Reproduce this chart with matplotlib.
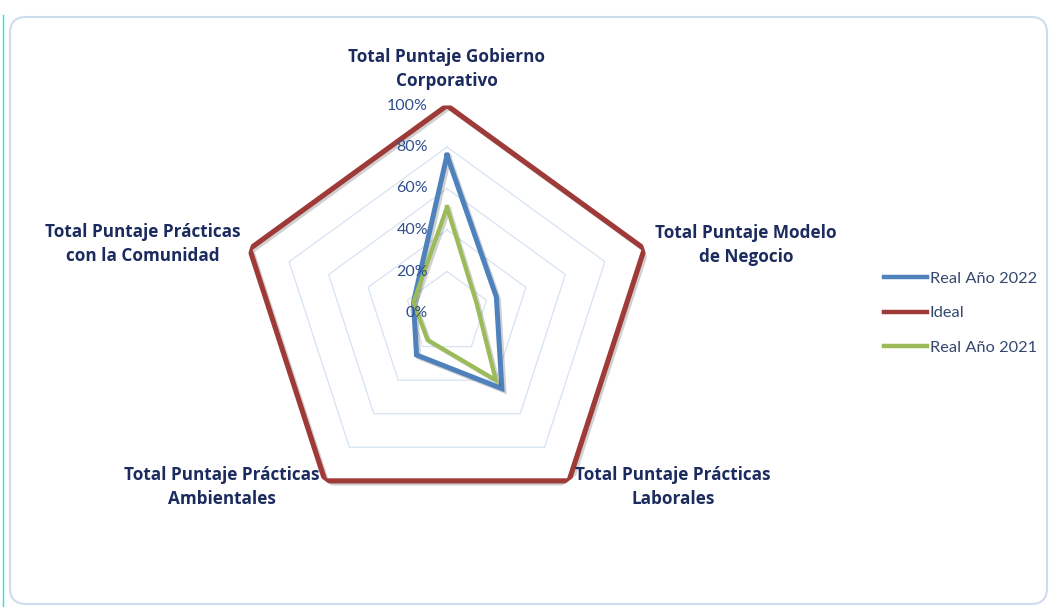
import numpy as np
import matplotlib
matplotlib.use("Agg")
from matplotlib import pyplot as plt
from matplotlib import patheffects as pe
from matplotlib.patches import FancyBboxPatch
from matplotlib.lines import Line2D
from matplotlib.transforms import offset_copy, IdentityTransform

# Data
categories = [
    "Total Puntaje Gobierno\nCorporativo",
    "Total Puntaje Modelo\nde Negocio",
    "Total Puntaje Prácticas\nLaborales",
    "Total Puntaje Prácticas\nAmbientales",
    "Total Puntaje Prácticas\ncon la Comunidad",
]
real_2022 = [0.76, 0.25, 0.45, 0.25, 0.17]
ideal = [1.0, 1.0, 1.0, 1.0, 1.0]
real_2021 = [0.51, 0.15, 0.40, 0.16, 0.17]
grid_levels = [0.2, 0.4, 0.6, 0.8]
tick_values = [0, 0.2, 0.4, 0.6, 0.8, 1.0]
tick_labels = ["0%", "20%", "40%", "60%", "80%", "100%"]

W, H = 1052, 607
fig = plt.figure(figsize=(W / 100, H / 100), dpi=100)
plt.rcParams['font.family'] = ['Lato', 'DejaVu Sans']

# chart frame (rounded border) and left cyan edge
frame = FancyBboxPatch((10, H - 604), 1037, 587, boxstyle="round,pad=0,rounding_size=16",
                       transform=IdentityTransform(), facecolor='white',
                       edgecolor='#cddcee', linewidth=1.5, zorder=-5)
fig.patches.append(frame)
fig.add_artist(Line2D([3 / W, 3 / W], [0, 1 - 15 / H], color='#19e6f5', linewidth=1, zorder=-4))

# polar axes placed so center ~ (447, 313) px, radius ~ 207 px
cx, cy, R = 447, 313, 207.5
ax = fig.add_axes([(cx - R) / W, 1 - (cy + R) / H, 2 * R / W, 2 * R / H], projection='polar')
ax.set_zorder(2)
ax.set_theta_offset(np.pi / 2)
ax.set_theta_direction(-1)
ax.set_ylim(0, 1)
ax.set_xticks([])
ax.set_yticks([])
ax.grid(False)
ax.spines['polar'].set_visible(False)
ax.patch.set_alpha(0)

n = len(categories)
angles = np.linspace(0, 2 * np.pi, n, endpoint=False)
closed = np.concatenate([angles, angles[:1]])

# polygon gridlines
for g in grid_levels:
    ax.plot(closed, [g] * (n + 1), color='#d5e3f3', linewidth=0.9, zorder=1)

shadow = [pe.SimpleLineShadow(offset=(1.5, -1.5), alpha=0.18, shadow_color='black'), pe.Normal()]

series = [
    ("Real Año 2022", real_2022, '#4f81bd', 3.6),
    ("Ideal", ideal, '#9e3a38', 3.7),
    ("Real Año 2021", real_2021, '#9bbb59', 3.0),
]
handles = []
for name, vals, col, lw in series:
    v = list(vals) + [vals[0]]
    ax.plot(closed, v, color=col, linewidth=lw, zorder=3,
            solid_joinstyle='miter', path_effects=shadow)
    handles.append(Line2D([], [], color=col, linewidth=3.2, label=name))

# radial tick labels
tick_tr = offset_copy(ax.transData, fig=fig, x=-19, y=0, units='dots')
for tv, tl in zip(tick_values, tick_labels):
    ax.text(0, tv, tl, transform=tick_tr, ha='right', va='center',
            fontsize=11.5, color='#2f4f8c', zorder=5)

# category labels (pixel centers)
label_pos = [(447, 69), (746, 245), (673, 487), (222, 487), (143, 244)]
for txt, (px, py) in zip(categories, label_pos):
    fig.text(px / W, 1 - py / H, txt, ha='center', va='center', fontsize=12.3,
             fontweight='bold', color='#1b2b5e', linespacing=1.42,
             family=['Open Sans', 'DejaVu Sans'])

leg = fig.legend(handles=handles, loc='center left', bbox_to_anchor=(884 / W, 1 - 313 / H),
                 frameon=False, fontsize=11.8, handlelength=2.6, handletextpad=0.2,
                 labelspacing=1.22, borderaxespad=0, borderpad=0)
for t in leg.get_texts():
    t.set_color('#34486e')

fig.savefig("out.png", dpi=100)
plt.close()
